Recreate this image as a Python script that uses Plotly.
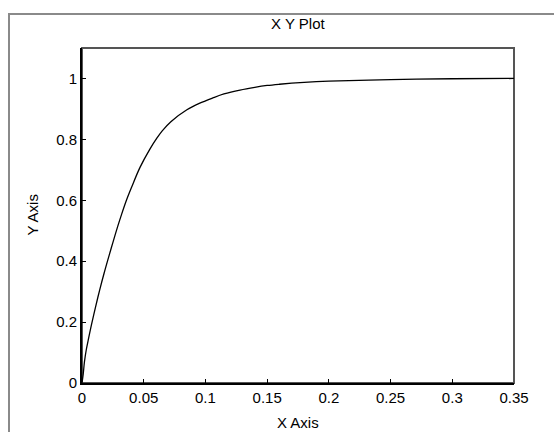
import plotly.graph_objects as go

# Data
x_vals = [0, 0.001, 0.002, 0.0035, 0.005, 0.0076, 0.011, 0.0143, 0.018, 0.0224,
          0.025, 0.029, 0.032, 0.036, 0.04, 0.047, 0.055, 0.0605, 0.065, 0.072,
          0.085, 0.095, 0.106, 0.115, 0.128, 0.14, 0.15, 0.16, 0.18, 0.2,
          0.25, 0.3, 0.35]
y_vals = [0, 0.03, 0.07, 0.11, 0.14, 0.19, 0.25, 0.305, 0.362, 0.425,
          0.461, 0.515, 0.553, 0.60, 0.641, 0.708, 0.768, 0.803, 0.828, 0.858,
          0.897, 0.918, 0.936, 0.949, 0.962, 0.971, 0.977, 0.981, 0.987, 0.991,
          0.996, 0.999, 1.0]
x_ticks = [0, 0.05, 0.1, 0.15, 0.2, 0.25, 0.3, 0.35]
y_ticks = [0, 0.2, 0.4, 0.6, 0.8, 1]
title_text = "X Y Plot"
x_title = "X Axis"
y_title = "Y Axis"

W, H = 554, 432
L, R, T, B = 82, 40, 48, 49
pw, ph = W - L - R, H - T - B

font = dict(family="Liberation Sans, Arial, sans-serif", size=15, color="black")

fig = go.Figure()
fig.add_trace(go.Scatter(x=x_vals, y=y_vals, mode="lines",
                         line=dict(color="black", width=1.3, shape="spline",
                                   smoothing=1.0),
                         showlegend=False))

fig.update_layout(
    width=W, height=H,
    margin=dict(l=L, r=R, t=T, b=B),
    paper_bgcolor="white", plot_bgcolor="white",
    font=font,
    xaxis=dict(range=[0, 0.35], tickvals=x_ticks, ticks="inside", ticklen=4,
               tickcolor="black", showgrid=False, zeroline=False,
               showline=True, linecolor="black", linewidth=2,
               tickfont=font),
    yaxis=dict(range=[0, 1.1], tickvals=y_ticks, ticks="inside", ticklen=4,
               tickcolor="black", showgrid=False, zeroline=False,
               showline=True, linecolor="black", linewidth=2,
               tickfont=font),
    shapes=[
        # plot box (top/right edges)
        dict(type="rect", xref="paper", yref="paper", x0=0, y0=0, x1=1, y1=1,
             line=dict(color="#555555", width=2), layer="below"),
        # outer figure border
        dict(type="rect", xref="paper", yref="paper",
             x0=(9 - L) / pw, y0=-(H + 20 - (T + ph)) / ph,
             x1=(W + 20 - L) / pw, y1=1 + (T - 14) / ph,
             line=dict(color="#8a8a8a", width=2)),
    ],
    annotations=[
        dict(text=title_text, xref="paper", yref="paper", x=0.5,
             y=1 + (T - 24) / ph, showarrow=False, xanchor="center",
             yanchor="middle", font=font),
        dict(text=x_title, xref="paper", yref="paper", x=0.5,
             y=-(422 - (T + ph)) / ph, showarrow=False, xanchor="center",
             yanchor="middle", font=font),
        dict(text=y_title, xref="paper", yref="paper", x=(32 - L) / pw,
             y=0.5, textangle=-90, showarrow=False, xanchor="center",
             yanchor="middle", font=font),
    ],
)

fig.write_html("out.html", config={"displayModeBar": False},
               post_script="document.body.style.margin='0px';document.body.style.overflow='hidden';")
